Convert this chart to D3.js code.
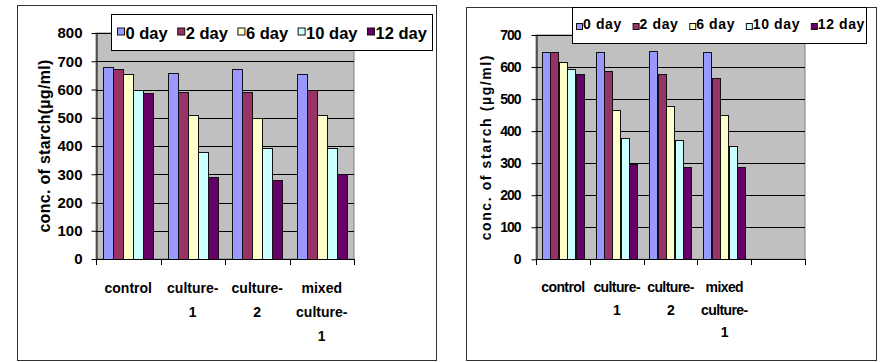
<!DOCTYPE html>
<html>
<head>
<meta charset="utf-8">
<script src="https://cdn.jsdelivr.net/npm/d3@7"></script>
<style>
  html, body { margin: 0; padding: 0; background: #fff; }
  svg { display: block; }
  text { font-family: "Liberation Sans", Arial, sans-serif; font-weight: bold; fill: #000; }
</style>
</head>
<body>
<svg id="chart" width="880" height="362"></svg>
<script>
// Series shared by both panels
const seriesNames = ["0 day", "2 day", "6 day", "10 day", "12 day"];
const seriesColors = ["#9999ff", "#993366", "#ffffcc", "#ccffff", "#660066"];

// Categories (label lines as printed under the axis)
const categories = ["control", "culture-1", "culture-2", "mixed culture-1"];
const categoryLines = [["control"], ["culture-", "1"], ["culture-", "2"], ["mixed", "culture-", "1"]];

// Left panel: starch concentration (µg/ml)
const leftDay0  = [680, 659, 672, 654];
const leftDay2  = [671, 590, 590, 600];
const leftDay6  = [655, 510, 500, 510];
const leftDay10 = [600, 378, 392, 392];
const leftDay12 = [589, 292, 280, 300];
const leftTicks = [0, 100, 200, 300, 400, 500, 600, 700, 800];

// Right panel: starch concentration (µg/ml)
const rightDay0  = [646, 646, 650, 646];
const rightDay2  = [646, 587, 579, 566];
const rightDay6  = [616, 467, 479, 449];
const rightDay10 = [595, 379, 372, 355];
const rightDay12 = [578, 297, 289, 289];
const rightTicks = [0, 100, 200, 300, 400, 500, 600, 700];

const svg = d3.select("#chart");

function drawPanel(cfg) {
  const g = svg.append("g");

  // chart-area frame
  g.append("rect")
    .attr("x", cfg.frame[0] + 0.5).attr("y", cfg.frame[1] + 0.5)
    .attr("width", cfg.frame[2]).attr("height", cfg.frame[3])
    .attr("fill", "#fff").attr("stroke", "#333");

  const x = d3.scaleBand().domain(d3.range(cfg.slots)).range(cfg.xRange).padding(0);
  const x1 = d3.scaleBand().domain(seriesNames).range([0, x.bandwidth()])
    .paddingInner(0).paddingOuter(0.7);
  const y = d3.scaleLinear().domain([0, d3.max(cfg.ticks)]).range(cfg.yRange);
  const color = d3.scaleOrdinal().domain(seriesNames).range(seriesColors);

  const [x0, xEnd] = cfg.xRange;
  const yTop = y(d3.max(cfg.ticks)), yBase = y(0);

  // plot area
  g.append("rect")
    .attr("x", x0).attr("y", yTop)
    .attr("width", xEnd - x0).attr("height", yBase - yTop)
    .attr("fill", "#c0c0c0").attr("stroke", "#808080");

  // gridlines
  g.append("g").selectAll("line").data(cfg.ticks.filter(t => t > 0)).join("line")
    .attr("x1", x0).attr("x2", xEnd)
    .attr("y1", d => Math.round(y(d)) + 0.5).attr("y2", d => Math.round(y(d)) + 0.5)
    .attr("stroke", "#000").attr("stroke-width", 1);

  // bars
  const rows = [];
  cfg.series.forEach((vals, si) => {
    vals.forEach((v, ci) => rows.push({ s: seriesNames[si], ci, v }));
  });
  g.append("g").selectAll("rect").data(rows).join("rect")
    .attr("x", d => Math.round(x(d.ci) + x1(d.s)) + 0.5)
    .attr("y", d => Math.round(y(d.v)) + 0.5)
    .attr("width", Math.round(x1.bandwidth()))
    .attr("height", d => Math.round(yBase) - Math.round(y(d.v)))
    .attr("fill", d => color(d.s))
    .attr("stroke", "#111").attr("stroke-width", 1);

  // value axis
  const yAxis = g.append("g")
    .attr("transform", `translate(${x0 + 0.5},0)`)
    .call(d3.axisLeft(y).tickValues(cfg.ticks).tickSize(5).tickPadding(cfg.tickPad).tickSizeOuter(0));
  yAxis.attr("font-family", null);
  yAxis.select(".domain").attr("stroke", "#000");
  yAxis.selectAll(".tick line").attr("stroke", "#000");
  yAxis.selectAll("text")
    .style("font-size", cfg.tickFont + "px")
    .style("letter-spacing", cfg.tickSpacing + "px");

  // category axis with boundary ticks
  g.append("line")
    .attr("x1", x0).attr("x2", xEnd)
    .attr("y1", Math.round(yBase) + 0.5).attr("y2", Math.round(yBase) + 0.5)
    .attr("stroke", "#000");
  g.append("g").selectAll("line").data(d3.range(cfg.slots + 1)).join("line")
    .attr("x1", i => Math.round(x0 + i * x.step()) + 0.5)
    .attr("x2", i => Math.round(x0 + i * x.step()) + 0.5)
    .attr("y1", Math.round(yBase)).attr("y2", Math.round(yBase) + 6)
    .attr("stroke", "#000");

  // category labels
  const labels = g.append("g").selectAll("text").data(categoryLines).join("text")
    .attr("text-anchor", "middle")
    .style("font-size", cfg.catFont + "px")
    .style("letter-spacing", cfg.catSpacing + "px");
  labels.selectAll("tspan").data((d, i) => d.map(line => ({ line, i }))).join("tspan")
    .attr("x", d => x(d.i) + x.bandwidth() / 2)
    .attr("y", (d, j) => cfg.catBaseline + j * cfg.catLineHeight)
    .text(d => d.line);

  // value-axis title
  g.append("text")
    .attr("transform", `translate(${cfg.titleX},${(yTop + yBase) / 2}) rotate(-90)`)
    .attr("text-anchor", "middle")
    .attr("dy", "0.35em")
    .style("font-size", cfg.titleFont + "px")
    .style("letter-spacing", cfg.titleSpacing + "px")
    .text(cfg.title);

  // legend
  const lg = g.append("g").attr("transform", `translate(${cfg.legend.x},${cfg.legend.y})`);
  lg.append("rect")
    .attr("x", 0.5).attr("y", 0.5)
    .attr("width", cfg.legend.w).attr("height", cfg.legend.h)
    .attr("fill", "#fff").attr("stroke", "#000");
  let cx = cfg.legend.pad;
  seriesNames.forEach(name => {
    const item = lg.append("g").attr("transform", `translate(${cx},0)`);
    item.append("rect")
      .attr("x", 0.5).attr("y", cfg.legend.swY + 0.5)
      .attr("width", cfg.legend.sw).attr("height", cfg.legend.sw)
      .attr("fill", color(name)).attr("stroke", "#111");
    const t = item.append("text")
      .attr("x", cfg.legend.sw + cfg.legend.txtPad)
      .attr("y", cfg.legend.base)
      .style("font-size", cfg.legend.font + "px")
      .style("letter-spacing", cfg.legend.spacing + "px")
      .text(name);
    cx += cfg.legend.sw + cfg.legend.txtPad + t.node().getComputedTextLength() + cfg.legend.gap;
  });
}

drawPanel({
  frame: [17, 5, 419, 355],
  slots: 4,
  xRange: [96, 354],
  yRange: [259, 33],
  ticks: leftTicks,
  series: [leftDay0, leftDay2, leftDay6, leftDay10, leftDay12],
  tickPad: 9, tickFont: 15, tickSpacing: 0,
  catFont: 14, catSpacing: 0, catBaseline: 293, catLineHeight: 24,
  titleX: 44, titleFont: 16, titleSpacing: 0.3,
  title: "conc. of starch(µg/ml)",
  legend: { x: 111, y: 14, w: 321, h: 36, pad: 6, sw: 7, swY: 13.5, txtPad: 1.5,
            base: 24.5, font: 16.5, spacing: 0, gap: 9.5 }
});

drawPanel({
  frame: [466, 7, 410, 353],
  slots: 5,
  xRange: [536, 805],
  yRange: [259.3, 35],
  ticks: rightTicks,
  series: [rightDay0, rightDay2, rightDay6, rightDay10, rightDay12],
  tickPad: 11, tickFont: 14, tickSpacing: -1,
  catFont: 14, catSpacing: -0.6, catBaseline: 292, catLineHeight: 22.5,
  titleX: 486, titleFont: 14, titleSpacing: 1.6,
  title: "conc. of starch (µg/ml)",
  legend: { x: 572, y: 7, w: 294, h: 36, pad: 4, sw: 6, swY: 16, txtPad: 1,
            base: 22, font: 14, spacing: 0.6, gap: 10.8 }
});
</script>
</body>
</html>
